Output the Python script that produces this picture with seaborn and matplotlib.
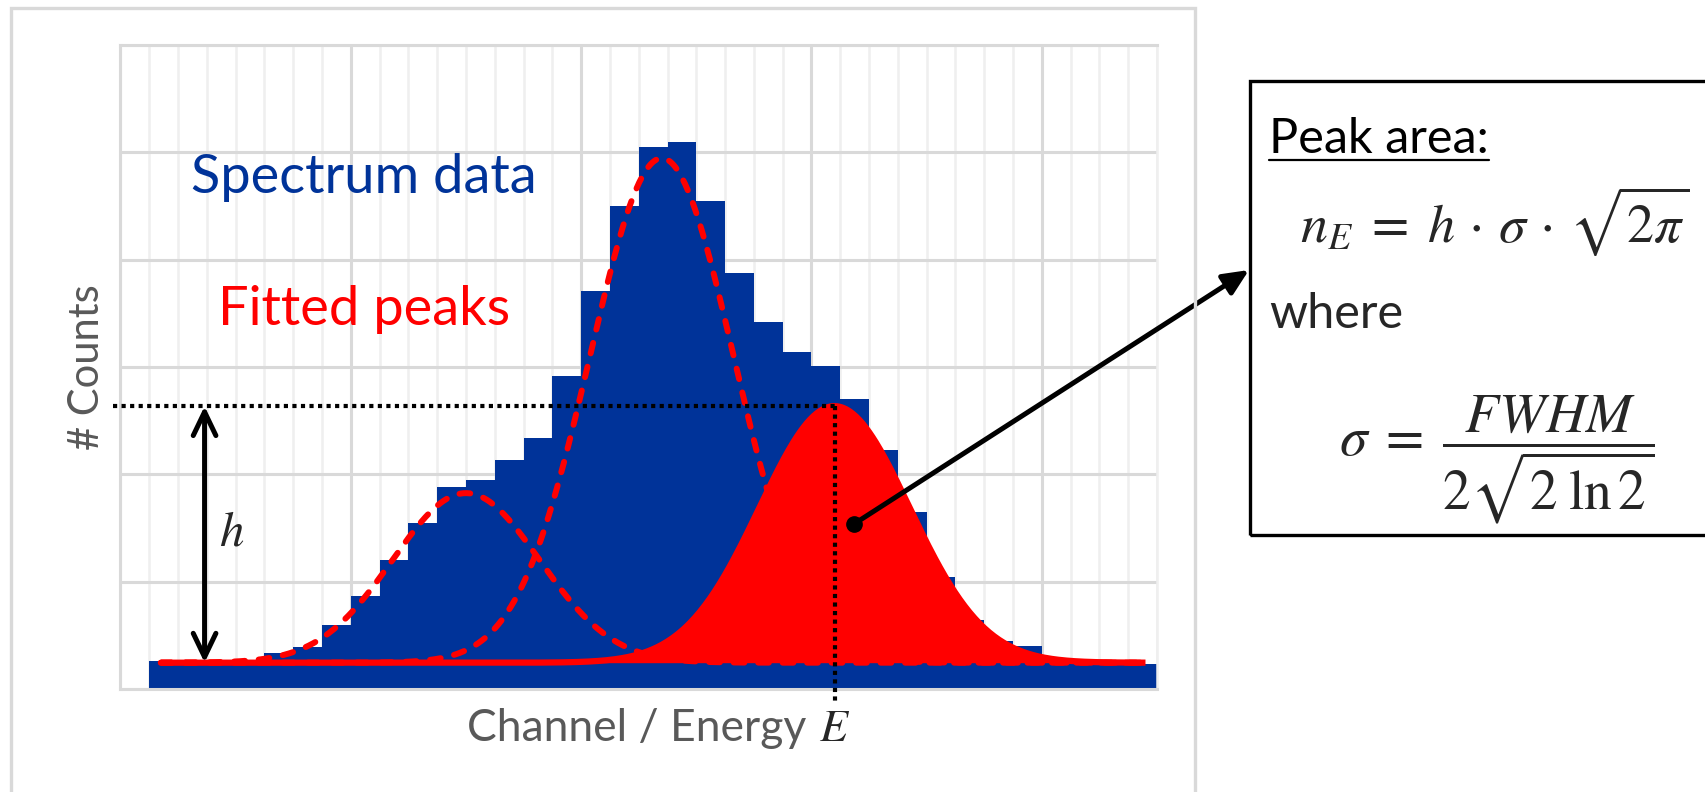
import numpy as np
import pandas as pd
import matplotlib
matplotlib.use("Agg")
import matplotlib.pyplot as plt
from matplotlib.patches import Rectangle
from matplotlib.lines import Line2D
import matplotlib.transforms as mtransforms
import seaborn as sns

# ---- data -------------------------------------------------------------
# spectrum counts per channel (channels 1..35, unit width)
channel_edges = list(range(1, 37))
counts = [0.26, 0.26, 0.26, 0.27, 0.34, 0.39, 0.60, 0.87, 1.20, 1.55,
          1.885, 1.95, 2.13, 2.34, 2.92, 3.71, 4.50, 5.05, 5.10, 4.55,
          3.88, 3.42, 3.14, 3.01, 2.70, 2.23, 1.65, 1.04, 0.64, 0.45,
          0.40, 0.27, 0.25, 0.24, 0.23]

# fitted model: flat background + three Gaussian peaks
background = 0.245
peak_centers = [12.0, 18.8, 24.8]
peak_heights = [1.58, 4.70, 2.39]
peak_sigmas = [2.55, 2.50, 2.60]
fit_range = (1.4, 35.6)

BLUE = "#003399"
RED = "#ff0000"
GRAY_TXT = "#595959"
GRID_MAJ = "#d9d9d9"
GRID_MIN = "#efefef"

W, H = 1706, 792


def fx(px):
    return px / W


def fy(py):
    return 1 - py / H


sns.set_theme(style="white")
plt.rcParams["font.family"] = ["Lato", "DejaVu Sans"]
plt.rcParams["mathtext.fontset"] = "stix"

fig = plt.figure(figsize=(W / 100, H / 100), dpi=100)
ax = fig.add_axes([fx(120.5), fy(689), fx(1157) - fx(120.5), fy(45) - fy(689)])

# grid
ax.set_axisbelow(True)
ax.set_xticks(np.arange(0, 37, 8))
ax.set_xticks(np.arange(0, 37, 1), minor=True)
ax.set_yticks(np.arange(0, 7, 1))
ax.grid(which="minor", axis="x", color=GRID_MIN, lw=1.8)
ax.grid(which="major", axis="x", color=GRID_MAJ, lw=2.2)
ax.grid(which="major", axis="y", color=GRID_MAJ, lw=2.2)
ax.tick_params(which="both", length=0, labelbottom=False, labelleft=False)
for side in ["left", "top", "bottom"]:
    ax.spines[side].set_color(GRID_MAJ)
    ax.spines[side].set_linewidth(2.2)
ax.spines["right"].set_color(GRID_MIN)
ax.spines["right"].set_linewidth(1.8)

# spectrum histogram
spec = pd.DataFrame({"channel": [e + 0.5 for e in channel_edges[:-1]],
                     "counts": counts})
sns.histplot(data=spec, x="channel", weights="counts", bins=channel_edges,
             element="step", fill=True, color=BLUE, alpha=1, linewidth=0,
             ax=ax, zorder=2)

# fitted components
xs = np.linspace(fit_range[0], fit_range[1], 600)
gauss = [h * np.exp(-(xs - c) ** 2 / (2 * s ** 2))
         for c, h, s in zip(peak_centers, peak_heights, peak_sigmas)]
for g in gauss[:2]:
    sns.lineplot(x=xs, y=background + g, ax=ax, color=RED, zorder=3)
    ln = ax.lines[-1]
    ln.set_linewidth(4.3)
    ln.set_linestyle((0, (1.8, 2.3)))
    ln.set_dash_capstyle("round")

ax.fill_between(xs, background, background + gauss[2], color=RED, lw=0, zorder=4)
sns.lineplot(x=xs, y=background + gauss[2], ax=ax, color=RED, zorder=4)
ax.lines[-1].set_linewidth(4.5)
ax.lines[-1].set_solid_capstyle("butt")
ax.set_xlabel("")
ax.set_ylabel("")
ax.set_xlim(0, 36)
ax.set_ylim(0, 6)

# peak position and height markers
E = peak_centers[2]
top = background + peak_heights[2]
ax.plot([-0.26, E], [top, top], color="black", linewidth=3.0,
        linestyle=(0, (1, 1.05)), dash_capstyle="butt", clip_on=False, zorder=5)
ax.plot([E, E], [top, -0.13], color="black", linewidth=3.0,
        linestyle=(0, (1, 1.05)), dash_capstyle="butt", clip_on=False, zorder=5)
ax.annotate("", xy=(2.92, top), xytext=(2.92, background),
            arrowprops=dict(arrowstyle="<->,head_length=1.0,head_width=0.48",
                            lw=3.6, color="black", mutation_scale=17,
                            shrinkA=0, shrinkB=0), zorder=6)
ax.text(3.85, 1.47, r"$h$", fontsize=35, ha="center", va="center", zorder=6)

# pointer from the fitted peak to the formula box
dot_x, dot_y = 25.49, 1.54
ax.plot([dot_x], [dot_y], "o", color="black", ms=11, zorder=7, clip_on=False)
ax.annotate("", xy=(fx(1249), fy(270)), xycoords="figure fraction",
            xytext=(dot_x, dot_y), textcoords="data",
            arrowprops=dict(arrowstyle="-|>,head_length=1.1,head_width=0.5",
                            lw=3.6, color="black", mutation_scale=14,
                            shrinkA=0, shrinkB=0), zorder=7)

# labels inside the plot
fig.text(fx(364), fy(193), "Spectrum data", color=BLUE, fontsize=39,
         ha="center", va="baseline")
fig.text(fx(364), fy(325), "Fitted peaks", color=RED, fontsize=39,
         ha="center", va="baseline")

# axis titles
fig.text(fx(87), fy(367), "# Counts", color=GRAY_TXT, fontsize=30,
         rotation=90, ha="center", va="center")
fig.text(fx(806), fy(741), "Channel / Energy", color=GRAY_TXT, fontsize=32,
         ha="right", va="baseline")
trans_E = mtransforms.blended_transform_factory(ax.transData, fig.transFigure)
fig.text(E, fy(741), r"$E$", fontsize=33, ha="center", va="baseline",
         transform=trans_E)

# outer frame
fig.add_artist(Rectangle((fx(11.5), fy(830)), fx(1195) - fx(11.5), fy(8) - fy(830),
                         transform=fig.transFigure, fill=False,
                         edgecolor=GRID_MAJ, lw=2.4, clip_on=False))

# formula box
fig.add_artist(Rectangle((fx(1250), fy(535)), fx(1800) - fx(1250), fy(80.5) - fy(535),
                         transform=fig.transFigure, fill=False,
                         edgecolor="black", lw=2.4, clip_on=False))
t_title = fig.text(fx(1269), fy(153), "Peak area:", fontsize=35,
                   ha="left", va="baseline", color="black")
fig.text(fx(1300), fy(243),
         r"$n_E\;=\;h\,\cdot\,\sigma\,\cdot\,\sqrt{2\pi}$",
         fontsize=39, ha="left", va="baseline")
fig.text(fx(1269), fy(328), "where", fontsize=35, ha="left", va="baseline")
fig.text(fx(1339), fy(460),
         r"$\sigma\;=\;\dfrac{FWHM}{2\sqrt{2\;\ln 2}}$",
         fontsize=40, ha="left", va="center")

# underline the box title
fig.canvas.draw()
bb = t_title.get_window_extent(fig.canvas.get_renderer())
fig.add_artist(Line2D([bb.x0 / W, bb.x1 / W], [fy(160), fy(160)],
                      transform=fig.transFigure, color="black", lw=1.6))

fig.savefig("out.png", dpi=100)
